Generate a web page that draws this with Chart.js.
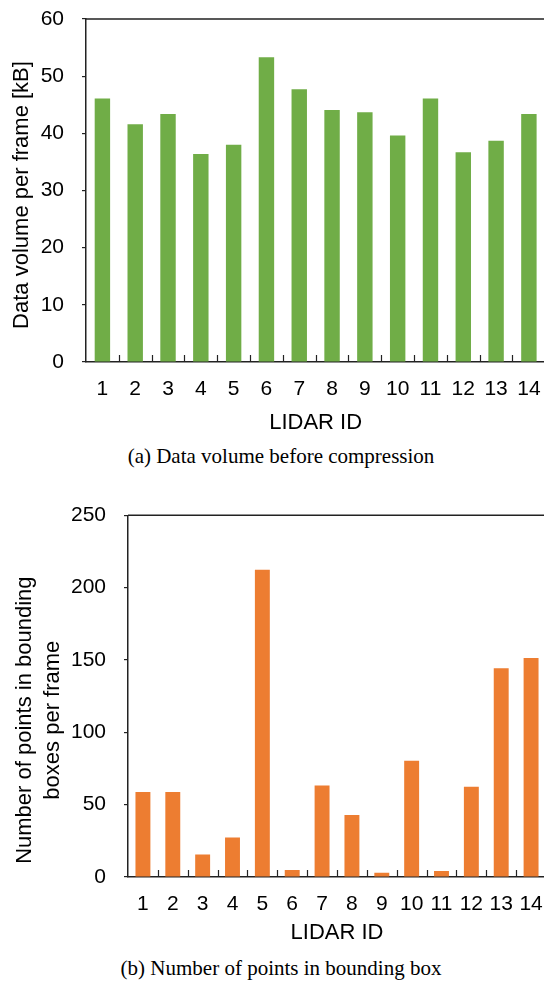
<!DOCTYPE html>
<html>
<head>
<meta charset="utf-8">
<script src="https://cdn.jsdelivr.net/npm/chart.js@4"></script>
<style>
  html, body { margin: 0; padding: 0; background: #fff; overflow: hidden; width: 544px; height: 982px; }
  canvas { position: absolute; left: 0; }
  #chartA { top: 0; }
  #chartB { top: 480px; }
  .caption {
    position: absolute; left: 0; width: 562px; text-align: center;
    font-family: 'Liberation Serif', 'Times New Roman', serif; font-size: 21px; color: #000;
    line-height: 24px;
  }
  #capA { top: 444px; }
  #capB { top: 956px; }
</style>
</head>
<body>
<canvas id="chartA" width="548" height="440"></canvas>
<div class="caption" id="capA">(a) Data volume before compression</div>
<canvas id="chartB" width="548" height="470"></canvas>
<div class="caption" id="capB">(b) Number of points in bounding box</div>

<script>
// LIDAR sensor ids (x categories)
const lidarIds = ['1', '2', '3', '4', '5', '6', '7', '8', '9', '10', '11', '12', '13', '14'];

// (a) data volume per frame before compression, kB
const dataVolumeKB = [46.1, 41.6, 43.4, 36.4, 38.0, 53.3, 47.7, 44.1, 43.7, 39.6, 46.1, 36.7, 38.7, 43.4];

// (b) number of points in bounding boxes per frame
const pointsInBoxes = [58.7, 58.7, 15.6, 27.3, 212.3, 4.8, 63.2, 42.8, 3.0, 80.3, 4.1, 62.3, 144.2, 151.3];

// y axis ranges / tick steps
const yRangeA = [0, 60, 10];
const yRangeB = [0, 250, 50];

const AXIS_COLOR = '#222';
const SANS = "'Liberation Sans', Arial, sans-serif";

// top/right line of the plot box + short inward ticks between categories
const boxPlugin = {
  id: 'plotBox',
  afterDraw(chart) {
    const { ctx, chartArea: a } = chart;
    const xs = chart.scales.x;
    ctx.save();
    ctx.strokeStyle = AXIS_COLOR;
    ctx.lineWidth = 1.5;
    ctx.beginPath();
    ctx.moveTo(a.left, a.top);
    ctx.lineTo(a.right, a.top);
    ctx.lineTo(a.right, a.bottom);
    ctx.stroke();
    ctx.lineWidth = 1.2;
    ctx.beginPath();
    for (let i = 1; i < chart.data.labels.length; i++) {
      const x = Math.round((xs.getPixelForValue(i - 1) + xs.getPixelForValue(i)) / 2) + 0.5;
      ctx.moveTo(x, a.bottom);
      ctx.lineTo(x, a.bottom - 7);
    }
    ctx.stroke();
    ctx.restore();
  }
};

// rotated y axis title, shifted a bit below the plot centre like the original
const yTitlePlugin = {
  id: 'yTitle',
  afterDraw(chart, args, opts) {
    const { ctx, chartArea: a } = chart;
    const cy = (a.top + a.bottom) / 2 + opts.shift;
    ctx.save();
    ctx.fillStyle = '#000';
    ctx.font = `22px ${SANS}`;
    ctx.textAlign = 'center';
    ctx.textBaseline = 'middle';
    opts.lines.forEach((line, i) => {
      ctx.save();
      ctx.translate(opts.xs[i], cy);
      ctx.rotate(-Math.PI / 2);
      ctx.fillText(line, 0, 0);
      ctx.restore();
    });
    ctx.restore();
  }
};

const noPad = s => { s.paddingTop = 0; s.paddingBottom = 0; s.paddingLeft = 0; s.paddingRight = 0; };

function makeChart(id, cfg) {
  return new Chart(document.getElementById(id), {
    type: 'bar',
    data: {
      labels: lidarIds,
      datasets: [{
        data: cfg.values,
        backgroundColor: cfg.color,
        borderWidth: 0,
        barPercentage: cfg.barPct,
        categoryPercentage: 1
      }]
    },
    options: {
      responsive: false,
      animation: false,
      devicePixelRatio: 1,
      layout: { padding: { top: cfg.padTop, right: cfg.padRight, left: 0, bottom: 0 } },
      plugins: {
        legend: { display: false },
        tooltip: { enabled: false },
        yTitle: { lines: cfg.yTitle, xs: cfg.yTitleX, shift: cfg.yTitleShift }
      },
      scales: {
        x: {
          offset: true,
          grid: { display: false },
          border: { display: true, color: AXIS_COLOR, width: 1.5 },
          ticks: { color: '#000', font: { family: SANS, size: 21 }, padding: 7, maxRotation: 0, autoSkip: false },
          title: {
            display: true, text: 'LIDAR ID', color: '#000',
            font: { family: SANS, size: 22 }, padding: { top: 0, bottom: cfg.xTitlePad }
          },
          afterFit: s => { s.height = cfg.xHeight; noPad(s); }
        },
        y: {
          min: cfg.range[0], max: cfg.range[1],
          grid: { display: true, drawOnChartArea: false, drawTicks: true, tickLength: 4, color: AXIS_COLOR, lineWidth: 1.2 },
          border: { display: true, color: AXIS_COLOR, width: 1.5 },
          ticks: { stepSize: cfg.range[2], color: '#000', font: { family: SANS, size: 21 }, padding: 18 },
          title: { display: false },
          afterFit: s => { s.width = cfg.yWidth; noPad(s); }
        }
      }
    },
    plugins: [boxPlugin, yTitlePlugin]
  });
}

makeChart('chartA', {
  values: dataVolumeKB, color: '#70AD47', barPct: 0.47, range: yRangeA,
  padTop: 19, padRight: 2.7, xHeight: 78, xTitlePad: 3.5,
  yWidth: 86, yTitle: ['Data volume per frame [kB]'], yTitleX: [22], yTitleShift: 4.5
});

makeChart('chartB', {
  values: pointsInBoxes, color: '#ED7D31', barPct: 0.5, range: yRangeB,
  padTop: 35.3, padRight: 2, xHeight: 73, xTitlePad: 3.5,
  yWidth: 128, yTitle: ['Number of points in bounding', 'boxes per frame'], yTitleX: [25, 53], yTitleShift: 24
});
</script>
</body>
</html>
